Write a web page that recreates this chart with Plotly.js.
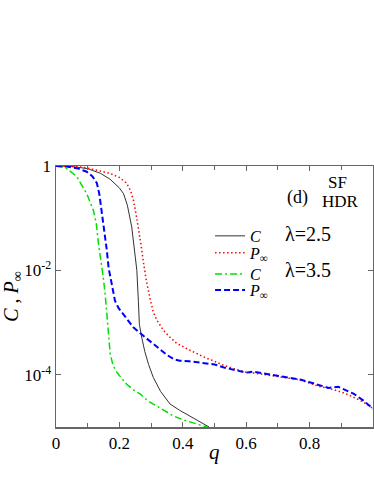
<!DOCTYPE html>
<html>
<head>
<meta charset="utf-8">
<script src="https://cdn.plot.ly/plotly-3.0.1.min.js"></script>
<style>
  html, body { margin: 0; padding: 0; background: #fff; }
  #chart { width: 374px; height: 484px; }
</style>
</head>
<body>
<div id="chart"></div>
<script>
// Connectivity C and percolation probability P_inf vs q (panel d, SF HDR)

// lambda = 2.5, C
const qC25 = [0, 0.05, 0.1, 0.14, 0.17, 0.2, 0.213, 0.225, 0.239, 0.248, 0.255, 0.26, 0.263, 0.271,
  0.28, 0.292, 0.307, 0.33, 0.36, 0.39, 0.413, 0.44, 0.46, 0.483];
const vC25 = [1, 0.977, 0.891, 0.724, 0.562, 0.38, 0.295, 0.178, 0.0676, 0.0251, 0.01, 2.51e-3, 9.3e-4, 5.0e-4,
  2.82e-4, 1.58e-4, 8.9e-5, 4.8e-5, 2.75e-5, 2.09e-5, 1.74e-5, 1.38e-5, 1.17e-5, 1.0e-5];

// lambda = 2.5, P_inf
const qP25 = [0, 0.065, 0.1, 0.17, 0.2, 0.223, 0.235, 0.244, 0.252, 0.26, 0.268, 0.276, 0.285, 0.297,
  0.307, 0.318, 0.339, 0.36, 0.381, 0.413, 0.445, 0.47, 0.5, 0.53, 0.56, 0.6, 0.62, 0.64, 0.66, 0.68,
  0.71, 0.74, 0.77, 0.8, 0.83, 0.86, 0.89, 0.92, 0.95, 0.97, 0.99, 1.0];
const vP25 = [1, 0.977, 0.912, 0.724, 0.603, 0.468, 0.339, 0.224, 0.126, 0.0676, 0.0316, 0.0141, 6.3e-3, 2.82e-3,
  1.58e-3, 1.12e-3, 7.1e-4, 5.2e-4, 4.0e-4, 3.16e-4, 2.51e-4, 2.14e-4, 1.82e-4, 1.51e-4, 1.32e-4, 1.12e-4, 1.09e-4, 1.05e-4, 1.0e-4, 9.6e-5,
  9.1e-5, 8.5e-5, 8.0e-5, 6.9e-5, 6.0e-5, 5.5e-5, 4.9e-5, 4.2e-5, 3.5e-5, 3.0e-5, 2.5e-5, 2.24e-5];

// lambda = 3.5, C
const qC35 = [0, 0.03, 0.065, 0.085, 0.097, 0.118, 0.127, 0.134, 0.142, 0.149, 0.155, 0.16, 0.165, 0.171,
  0.18, 0.192, 0.205, 0.223, 0.245, 0.265, 0.29, 0.318, 0.345, 0.371, 0.4, 0.434, 0.46, 0.476];
const vC35 = [1, 0.933, 0.631, 0.398, 0.295, 0.141, 0.0794, 0.0324, 0.0158, 7.4e-3, 3.55e-3, 1.7e-3, 6.3e-4, 2.51e-4,
  1.51e-4, 1.12e-4, 8.9e-5, 6.6e-5, 5.1e-5, 4.3e-5, 3.16e-5, 2.51e-5, 2.0e-5, 1.62e-5, 1.38e-5, 1.2e-5, 1.07e-5, 1.0e-5];

// lambda = 3.5, P_inf
const qP35 = [0, 0.034, 0.07, 0.097, 0.115, 0.129, 0.137, 0.144, 0.152, 0.16, 0.166, 0.172, 0.18, 0.186,
  0.197, 0.213, 0.23, 0.244, 0.265, 0.287, 0.31, 0.329, 0.35, 0.371, 0.39, 0.42, 0.45, 0.48, 0.5, 0.53,
  0.56, 0.6, 0.62, 0.65, 0.68, 0.71, 0.74, 0.77, 0.8, 0.83, 0.86, 0.89, 0.91, 0.94, 0.97, 1.0];
const vP35 = [1, 0.977, 0.891, 0.776, 0.631, 0.468, 0.282, 0.141, 0.0676, 0.0251, 0.0112, 7.1e-3, 3.98e-3, 2.63e-3,
  1.91e-3, 1.41e-3, 1.05e-3, 8.1e-4, 6.3e-4, 4.9e-4, 3.8e-4, 3.1e-4, 2.4e-4, 2.0e-4, 1.86e-4, 1.82e-4, 1.74e-4, 1.66e-4, 1.58e-4, 1.38e-4,
  1.26e-4, 1.1e-4, 1.15e-4, 1.07e-4, 1.0e-4, 9.3e-5, 8.7e-5, 8.1e-5, 7.2e-5, 6.3e-5, 5.6e-5, 5.9e-5, 5.2e-5, 4.3e-5, 3.2e-5, 2.24e-5];

const yTickVals = [1, 1e-2, 1e-4];
const yTickText = ['1', '10<sup>-2</sup>', '10<sup>-4</sup>'];
const xTickVals = [0, 0.2, 0.4, 0.6, 0.8, 1];
const xTickText = ['0', '0.2', '0.4', '0.6', '0.8', '1'];

const SERIF = 'Liberation Serif';
const AXIS_COLOR = '#666';

// each legend entry gets its own legend box so the rows sit where the reference has them
function legendBox(yPos) {
  return {
    x: 0.486, y: yPos, xanchor: 'left', yanchor: 'middle',
    bgcolor: 'rgba(0,0,0,0)', borderwidth: 0,
    font: { family: SERIF, size: 16 }
  };
}

const traces = [
  { x: qC25, y: vC25, name: '<i>C</i>', mode: 'lines', legend: 'legend',
    line: { color: '#333', width: 1, dash: 'solid' } },
  { x: qP25, y: vP25, name: '<i>P</i><sub>∞</sub>', mode: 'lines', legend: 'legend2',
    line: { color: '#ff0000', width: 1.5, dash: '1.5px,2.5px' } },
  { x: qC35, y: vC35, name: '<i>C</i>', mode: 'lines', legend: 'legend3',
    line: { color: '#00e000', width: 1.5, dash: '7px,3px,2px,3px' } },
  { x: qP35, y: vP35, name: '<i>P</i><sub>∞</sub>', mode: 'lines', legend: 'legend4',
    line: { color: '#0000ff', width: 2, dash: '6px,3px' } }
];

const layout = {
  width: 374,
  height: 484,
  margin: { l: 56, r: 1, t: 166, b: 57 },
  paper_bgcolor: '#fff',
  plot_bgcolor: '#fff',
  font: { family: SERIF, size: 17, color: '#000' },
  showlegend: true,
  legend: legendBox(0.732),
  legend2: legendBox(0.667),
  legend3: legendBox(0.586),
  legend4: legendBox(0.525),
  xaxis: {
    range: [0, 1],
    tickmode: 'array', tickvals: xTickVals, ticktext: xTickText,
    ticks: 'inside', ticklen: 5, tickcolor: AXIS_COLOR,
    minor: { dtick: 0.1, ticks: 'inside', ticklen: 4, tickcolor: AXIS_COLOR },
    showline: true, linecolor: AXIS_COLOR, linewidth: 1.5, mirror: 'allticks',
    showgrid: false, zeroline: false,
    tickfont: { family: SERIF, size: 17 }
  },
  yaxis: {
    type: 'log', range: [-5, 0],
    tickmode: 'array', tickvals: yTickVals, ticktext: yTickText,
    ticks: 'inside', ticklen: 5, tickcolor: AXIS_COLOR,
    showline: true, linecolor: AXIS_COLOR, linewidth: 1.5, mirror: 'allticks',
    showgrid: false, zeroline: false,
    tickfont: { family: SERIF, size: 17 },
    title: { text: '<i>C</i> , <i>P</i><sub>∞</sub>', font: { family: SERIF, size: 20 }, standoff: 4 }
  },
  annotations: [
    { xref: 'paper', yref: 'paper', x: 0.5, y: -0.095, xanchor: 'center', yanchor: 'middle',
      text: '<i>q</i>', showarrow: false, font: { family: SERIF, size: 21 } },
    { xref: 'paper', yref: 'paper', x: 0.763, y: 0.881, xanchor: 'center', yanchor: 'middle',
      text: '(d)', showarrow: false, font: { family: SERIF, size: 18 } },
    { xref: 'paper', yref: 'paper', x: 0.887, y: 0.935, xanchor: 'center', yanchor: 'middle',
      text: 'SF', showarrow: false, font: { family: SERIF, size: 17 }, borderpad: 0 },
    { xref: 'paper', yref: 'paper', x: 0.899, y: 0.864, xanchor: 'center', yanchor: 'middle',
      text: 'HDR', showarrow: false, font: { family: SERIF, size: 17 }, borderpad: 0 },
    { xref: 'paper', yref: 'paper', x: 0.716, y: 0.739, xanchor: 'left', yanchor: 'middle',
      text: 'λ=2.5', showarrow: false, font: { family: SERIF, size: 20 } },
    { xref: 'paper', yref: 'paper', x: 0.716, y: 0.602, xanchor: 'left', yanchor: 'middle',
      text: 'λ=3.5', showarrow: false, font: { family: SERIF, size: 20 } }
  ]
};

Plotly.newPlot('chart', traces, layout, { displayModeBar: false, staticPlot: true });
</script>
</body>
</html>
